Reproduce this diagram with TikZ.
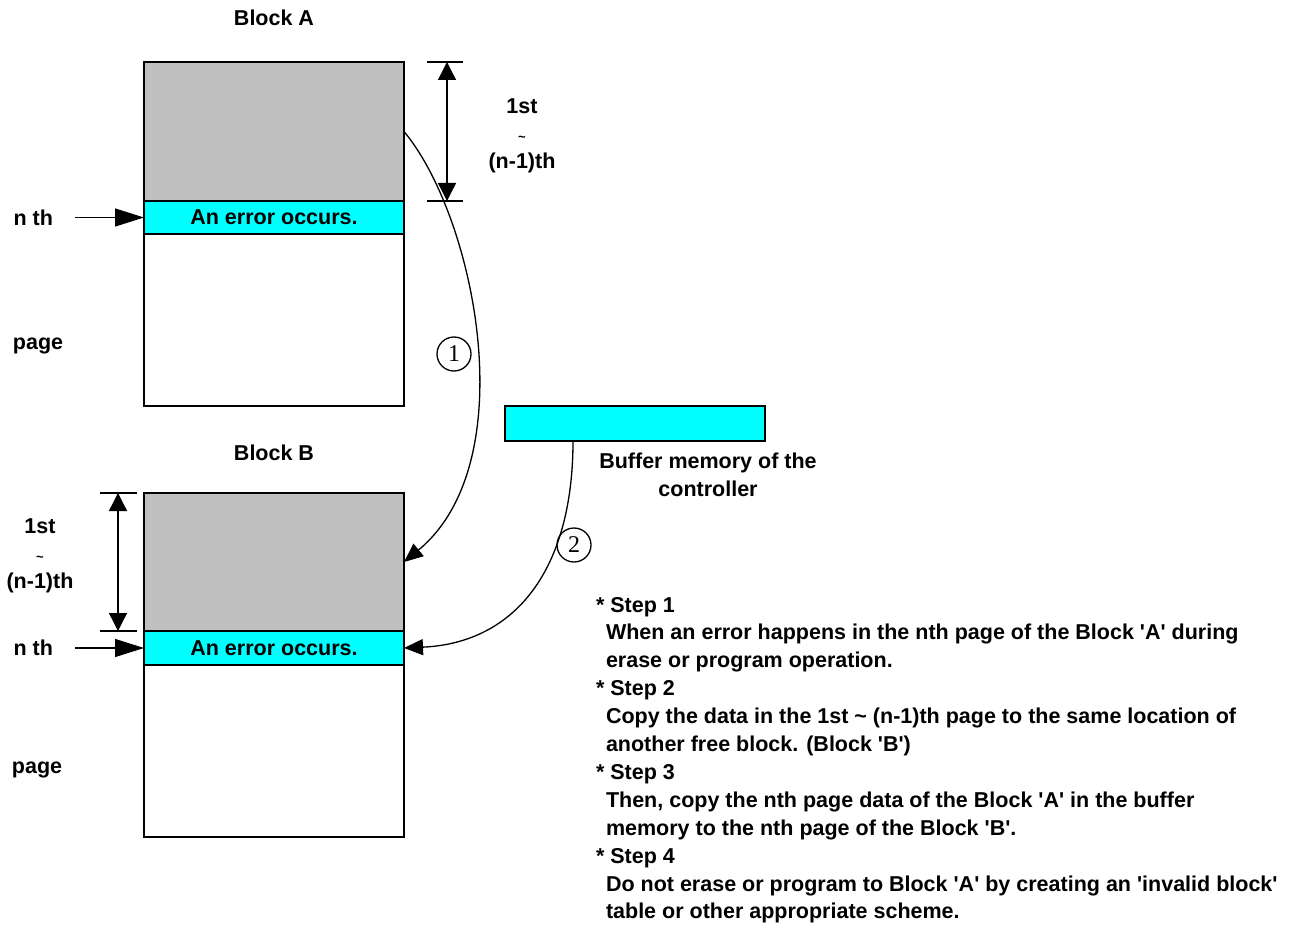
\documentclass[tikz,border=0pt]{standalone}
\usepackage{fontspec}
\setmainfont{Liberation Sans}
\newfontfamily\circfont{Liberation Serif}
\usetikzlibrary{positioning, arrows.meta, calc}

\definecolor{pagegray}{RGB}{192,192,192}
\definecolor{errcyan}{RGB}{0,255,255}

\begin{document}
\begin{tikzpicture}[
    x=1pt, y=-1pt,
    line width=1.3pt,
    every node/.style={outer sep=0pt},
    lbl/.style={inner sep=0pt, font=\fontsize{21.5}{27.5}\selectfont\bfseries},
    pagebox/.style={draw, minimum width=260pt, inner sep=0pt},
    used/.style={pagebox, fill=pagegray},
    errpage/.style={pagebox, fill=errcyan, font=\fontsize{21.5}{26}\selectfont\bfseries},
    freepg/.style={pagebox, fill=white},
    dim/.style={{Triangle[length=18pt, width=18pt]}-{Triangle[length=18pt, width=18pt]}},
    pointer/.style={-{Triangle[length=29pt, width=18pt]}},
    copyarrow/.style={-{Triangle[length=19pt, width=16pt]}},
    stepno/.style={draw, circle, minimum size=34pt, inner sep=0pt, line width=1.3pt,
                   font=\circfont\fontsize{24}{24}\selectfont},
  ]
  \useasboundingbox (0,0) rectangle (1303,925);

  % Block A
  \node[used, minimum height=139pt, anchor=north west] (usedA) at (144,62) {};
  \node[errpage, minimum height=33pt, below=0pt of usedA] (errA) {An error occurs.};
  \node[freepg, minimum height=172pt, below=0pt of errA] (freeA) {};
  \node[lbl, above=36pt of usedA] (titleA) {Block A};

  % Block B
  \node[used, minimum height=138pt, anchor=north west] (usedB) at (144,493) {};
  \node[errpage, minimum height=34pt, below=0pt of usedB] (errB) {An error occurs.};
  \node[freepg, minimum height=172pt, below=0pt of errB] (freeB) {};
  \node[lbl, above=32pt of usedB] (titleB) {Block B};

  % Buffer of the controller
  \node[pagebox, fill=errcyan, minimum height=35pt, anchor=north west] (buf) at (505,406) {};
  \node[lbl, align=center, anchor=north] (buflbl) at (708,453) {Buffer memory of the\\controller};

  % Range of the good pages
  \coordinate (topA) at ([xshift=43pt]usedA.north east);
  \coordinate (botA) at ([xshift=43pt]usedA.south east);
  \draw[dim] (topA) -- (botA);
  \draw ([xshift=-20pt]topA) -- ([xshift=16pt]topA);
  \draw ([xshift=-20pt]botA) -- ([xshift=16pt]botA);
  \node[lbl, align=center, anchor=north] (rangeA) at (522,99)
    {1st\\{\fontsize{13}{13}\selectfont\textasciitilde}\\(n-1)th};

  \coordinate (topB) at ([xshift=-26pt]usedB.north west);
  \coordinate (botB) at ([xshift=-26pt]usedB.south west);
  \draw[dim] (topB) -- (botB);
  \draw ([xshift=-18pt]topB) -- ([xshift=19pt]topB);
  \draw ([xshift=-18pt]botB) -- ([xshift=19pt]botB);
  \node[lbl, align=center, anchor=north] (rangeB) at (40,519)
    {1st\\{\fontsize{13}{13}\selectfont\textasciitilde}\\(n-1)th};

  % Failing page
  \coordinate (nA) at ([xshift=-69pt]errA.west);
  \draw[pointer] (nA) -- (errA);
  \node[lbl, left=22pt of nA] (nthA) {n th};
  \coordinate (nB) at ([xshift=-69pt]errB.west);
  \draw[pointer] (nB) -- (errB);
  \node[lbl, left=22pt of nB] (nthB) {n th};

  \node[lbl] (pageA) at (38,346) {page};
  \node[lbl] (pageB) at (37,770) {page};

  % Copy steps
  \draw[copyarrow] (usedA.east) .. controls +(71,85) and +(121,-100) .. (usedB.east);
  \coordinate (bufout) at ([xshift=68pt]buf.south west);
  \draw[copyarrow] (bufout) .. controls +(0,129) and +(111,-5) .. (errB.east);
  \node[stepno] (one) at (454,354) {1};
  \node[stepno] (two) at (574,545) {2};

  % Notes
  \node[lbl, font=\fontsize{21.5}{27.9}\selectfont\bfseries, align=left, anchor=north west] (steps) at (596,597) {%
    * Step 1\\
    \hspace*{10pt}When an error happens in the nth page of the Block \textquotesingle A\textquotesingle{} during\\
    \hspace*{10pt}erase or program operation.\\
    * Step 2\\
    \hspace*{10pt}Copy the data in the 1st \textasciitilde{} (n-1)th page to the same location of\\
    \hspace*{10pt}another free block. (Block \textquotesingle B\textquotesingle)\\
    * Step 3\\
    \hspace*{10pt}Then, copy the nth page data of the Block \textquotesingle A\textquotesingle{} in the buffer\\
    \hspace*{10pt}memory to the nth page of the Block \textquotesingle B\textquotesingle.\\
    * Step 4\\
    \hspace*{10pt}Do not erase or program to Block \textquotesingle A\textquotesingle{} by creating an \textquotesingle invalid block\textquotesingle\\
    \hspace*{10pt}table or other appropriate scheme.};
\end{tikzpicture}
\end{document}
